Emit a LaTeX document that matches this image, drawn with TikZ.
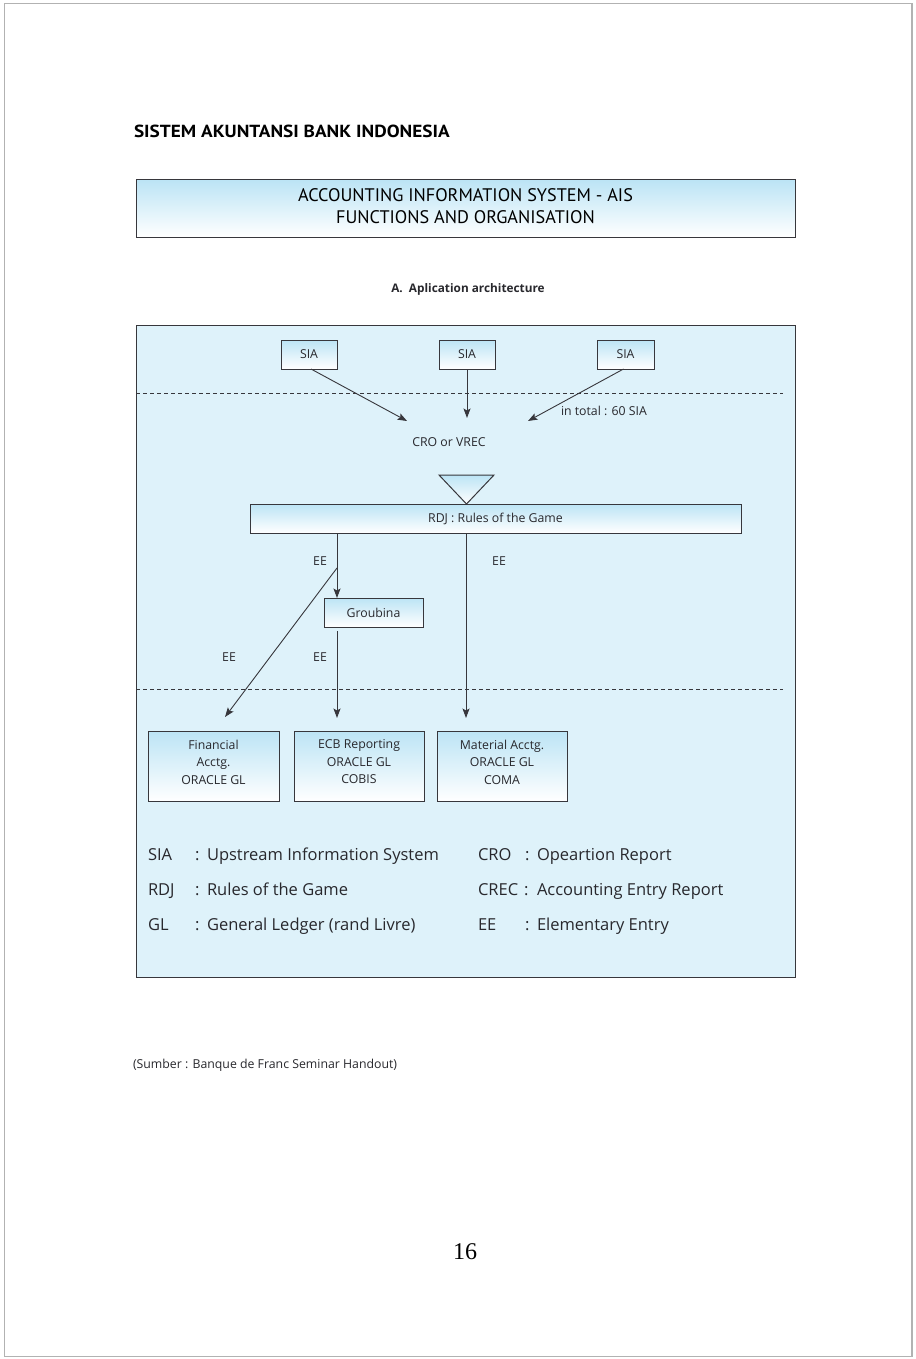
\documentclass[tikz,border=0pt]{standalone}
\usepackage{fontspec}
\setmainfont{Open Sans}
\newfontfamily\ptsans{PT Sans}
\newfontfamily\hdrfont[FakeStretch=1.1]{PT Sans}
\newfontfamily\numfont{Liberation Serif}
\usetikzlibrary{arrows.meta}
\definecolor{bgblue}{RGB}{222,242,250}
\definecolor{gradtop}{RGB}{188,228,245}
\definecolor{edge}{RGB}{55,55,60}
\definecolor{txt}{RGB}{40,40,45}
\begin{document}
\begin{tikzpicture}[x=1pt,y=-1pt,
  every node/.style={inner sep=0pt, outer sep=0pt, text=txt},
  gbox/.style={draw=edge, line width=1pt, top color=gradtop, bottom color=white},
  btext/.style={align=center, font=\fontsize{12.3}{17.5}\selectfont},
  lbl/.style={font=\fontsize{12.3}{15}\selectfont},
  leg/.style={font=\fontsize{16.5}{20}\selectfont, anchor=mid west},
  arr/.style={draw=edge, line width=0.9pt, -{Stealth[length=9.5pt,width=7pt,inset=2pt]}},
  dsh/.style={draw=edge, line width=0.9pt, dash pattern=on 4pt off 3pt},
]
\useasboundingbox (0,0) rectangle (915,1359);
\fill[white] (0,0) rectangle (915,1359);
\draw[draw=gray!60, line width=1.2pt] (4.5,3.5) rectangle (912,1356.5);

% header
\node[anchor=base west, text=black, font=\hdrfont\bfseries\fontsize{17.5}{20}\selectfont] (hdr) at (134,138) {SISTEM AKUNTANSI BANK INDONESIA};

% title box
\node[gbox, minimum width=659pt, minimum height=57pt] (title) at (465.5,208.5) {};
\node[align=center, text=black, font=\ptsans\fontsize{18.2}{22}\selectfont] (titletext) at ([yshift=2pt]title.center) {ACCOUNTING INFORMATION SYSTEM - AIS\\FUNCTIONS AND ORGANISATION};

\node[font=\bfseries\fontsize{11.8}{14}\selectfont, anchor=mid] (sub) at (468,290) {A.\ \ Aplication architecture};

% main panel
\node[draw=edge, line width=1pt, fill=bgblue, minimum width=659pt, minimum height=652pt] (panel) at (465.5,651) {};

% dashed separators
\coordinate (d1a) at (136,393); \coordinate (d1b) at (783,393);
\coordinate (d2a) at (136,689); \coordinate (d2b) at (783,689);
\draw[dsh] (d1a) -- (d1b);
\draw[dsh] (d2a) -- (d2b);

% SIA boxes
\node[gbox, btext, minimum width=56pt, minimum height=29pt] (sia1) at (309,354.5) {SIA};
\node[gbox, btext, minimum width=56pt, minimum height=29pt] (sia2) at (467,354.5) {SIA};
\node[gbox, btext, minimum width=57pt, minimum height=29pt] (sia3) at (625.5,354.5) {SIA};

\coordinate (t1) at (407,421);
\coordinate (t2) at (467,418);
\coordinate (t3) at (528,421);
\draw[arr] ([xshift=2pt]sia1.south) -- (t1);
\draw[arr] (sia2.south) -- (t2);
\draw[arr] ([xshift=-2pt]sia3.south) -- (t3);

\node[lbl, anchor=mid west] (total) at (561,413) {in total : 60 SIA};
\node[lbl, anchor=mid] (cro) at (449,444) {CRO or VREC};

% triangle
\coordinate (tra) at (439,475); \coordinate (trb) at (494,475); \coordinate (trc) at (466.5,504);
\draw[draw=edge, line width=1pt, top color=gradtop, bottom color=white] (tra) -- (trb) -- (trc) -- cycle;

% RDJ
\node[gbox, btext, minimum width=491pt, minimum height=29pt] (rdj) at (495.5,518.5) {RDJ : Rules of the Game};

% Groubina
\node[gbox, btext, minimum width=99pt, minimum height=29pt] (grb) at (373.5,612.5) {Groubina};

% bottom boxes
\node[gbox, minimum width=131pt, minimum height=70pt] (fin) at (213.5,766) {};
\node[gbox, minimum width=130pt, minimum height=70pt] (ecb) at (359,766) {};
\node[gbox, minimum width=130pt, minimum height=70pt] (mat) at (502,766) {};
\node[btext] (fint) at ([yshift=4pt]fin.center) {Financial\\Acctg.\\ORACLE GL};
\node[btext] (ecbt) at ([yshift=4pt]ecb.center) {ECB Reporting\\ORACLE GL\\COBIS};
\node[btext] (matt) at ([yshift=4pt]mat.center) {Material Acctg.\\ORACLE GL\\COMA};

% connectors
\coordinate (xa) at (337,0);
\coordinate (xb) at (466,0);
\coordinate (split) at (337,568);
\coordinate (fe) at (225,717);
\coordinate (ge) at (337,631);
\coordinate (ee) at (337,718);
\coordinate (me) at (466,718);
\draw[arr] (rdj.south -| xa) -- (grb.north -| xa);
\draw[arr] (split) -- (fe);
\draw[arr] (ge) -- (ee);
\draw[arr] (rdj.south -| xb) -- (me);

\node[lbl, anchor=mid] (ee1) at (320,563) {EE};
\node[lbl, anchor=mid] (ee2) at (499,563) {EE};
\node[lbl, anchor=mid] (ee3) at (229,659) {EE};
\node[lbl, anchor=mid] (ee4) at (320,659) {EE};

% legend
\node[leg] (l1a) at (148,858) {SIA};
\node[leg] (l1c) at (195,858) {:};
\node[leg] (l1t) at (207,858) {Upstream Information System};
\node[leg] (l2a) at (148,893) {RDJ};
\node[leg] (l2c) at (195,893) {:};
\node[leg] (l2t) at (207,893) {Rules of the Game};
\node[leg] (l3a) at (148,928) {GL};
\node[leg] (l3c) at (195,928) {:};
\node[leg] (l3t) at (207,928) {General Ledger (rand Livre)};
\node[leg] (r1a) at (478,858) {CRO};
\node[leg] (r1c) at (525,858) {:};
\node[leg] (r1t) at (537,858) {Opeartion Report};
\node[leg] (r2a) at (478,893) {CREC};
\node[leg] (r2c) at (524,893) {:};
\node[leg] (r2t) at (537,893) {Accounting Entry Report};
\node[leg] (r3a) at (478,928) {EE};
\node[leg] (r3c) at (525,928) {:};
\node[leg] (r3t) at (537,928) {Elementary Entry};

% source & page number
\node[font=\fontsize{12.3}{14}\selectfont, anchor=mid west] (src) at (133,1066) {(Sumber : Banque de Franc Seminar Handout)};
\node[font=\numfont\fontsize{24}{28}\selectfont, anchor=mid, text=black] (pg) at (465,1257) {16};
\end{tikzpicture}
\end{document}
